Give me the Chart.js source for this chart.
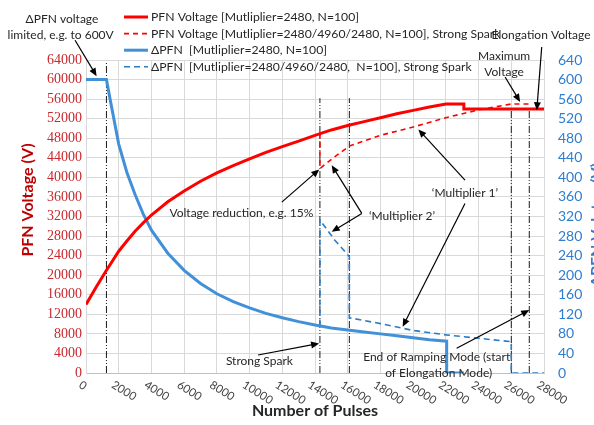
<!DOCTYPE html>
<html>
<head>
<meta charset="utf-8">
<script src="https://cdn.jsdelivr.net/npm/chart.js@4/dist/chart.umd.min.js"></script>
<style>
  html,body{margin:0;padding:0;background:#fff}
  canvas{display:block}
</style>
</head>
<body>
<canvas id="chart" width="594" height="425"></canvas>
<script>
/* ---------- data ---------- */

// PFN voltage, normal ramp (left axis, V)
const pfnX = [0, 625, 1250, 1500, 2000, 2500, 3000, 3500, 4000, 5000, 6000, 7000, 8000, 9000, 10000,
              11000, 12000, 13000, 14000, 15000, 16000, 17000, 18000, 19000, 20000, 21000, 22000, 23100, 23100, 28000];
const pfnY = [14000, 17600, 21000, 22300, 24900, 27000, 29000, 30700, 32300, 35000, 37200, 39200, 40900, 42400, 43800,
              45100, 46300, 47400, 48600, 49700, 50600, 51400, 52200, 53000, 53700, 54400, 55000, 55000, 54000, 54000];

// PFN voltage with strong spark
const sparkPfnX = [14300, 14300, 15200, 16100, 18000, 20000, 22000, 24000, 26000, 27300];
const sparkPfnY = [49000, 41800, 44200, 46400, 48600, 50300, 52200, 53800, 55000, 55000];

// delta PFN, normal ramp (right axis, V)
const dpfnX = [0, 1250, 1500, 2000, 2500, 3000, 3500, 4000, 5000, 6000, 7000, 8000, 9000, 10000, 11000,
               12000, 13000, 14000, 15000, 16000, 17000, 18000, 19000, 20000, 21000, 22050, 22050, 23100];
const dpfnY = [600, 600, 555, 468, 410, 365, 325, 292, 245, 210, 183, 162, 146, 133, 122,
               113, 105, 98, 92, 88, 84, 80, 76, 72, 68, 65, 0, 0];

// delta PFN with strong spark
const sparkDpfnX = [14300, 14300, 15200, 16100, 16100, 18000, 20000, 22000, 24000, 26000, 26000, 28000];
const sparkDpfnY = [97, 313, 272, 238, 113, 101, 87, 78, 71, 64, 0, 0];

// vertical event markers (pulse number, top in V)
const markerX   = [1250, 14300, 16100, 26000, 27100];
const markerTop = [63500, 56200, 56200, 54500, 54500];

const legendLabels = [
  "PFN Voltage [Mutliplier=2480, N=100]",
  "PFN Voltage [Mutliplier=2480/4960/2480, N=100], Strong Spark",
  "\u0394PFN  [Mutliplier=2480, N=100]",
  "\u0394PFN  [Mutliplier=2480/4960/2480,  N=100], Strong Spark"
];

/* ---------- helpers ---------- */

const pts = (xs, ys) => xs.map((x, i) => ({x, y: ys[i]}));

const RED = "#ff0000";
const BLUE = "#4190d8";
const BLUE_D = "#2a7cc7";
const TXT = "#262626";
const FONT = "Lato, 'Open Sans', sans-serif";

function arrow(ctx, x1, y1, x2, y2){
  const a = Math.atan2(y2 - y1, x2 - x1), L = 8, W = 3.5;
  ctx.beginPath();
  ctx.moveTo(x1, y1);
  ctx.lineTo(x2 - Math.cos(a) * L * 0.8, y2 - Math.sin(a) * L * 0.8);
  ctx.stroke();
  ctx.beginPath();
  ctx.moveTo(x2, y2);
  ctx.lineTo(x2 - L * Math.cos(a) + W * Math.sin(a), y2 - L * Math.sin(a) - W * Math.cos(a));
  ctx.lineTo(x2 - L * Math.cos(a) - W * Math.sin(a), y2 - L * Math.sin(a) + W * Math.cos(a));
  ctx.closePath();
  ctx.fill();
}

// annotation texts & arrows, in data units (pulses, left-axis volts)
const notes = [
  {t: "\u0394PFN voltage",              x: -1470, y: 72400},
  {t: "limited, e.g. to 600V",          x: -1550, y: 69100},
  {t: "Voltage reduction, e.g. 15%",    x: 9500,  y: 32700},
  {t: "\u2018Multiplier 2\u2019",       x: 19320, y: 32070},
  {t: "\u2018Multiplier 1\u2019",       x: 23170, y: 36710},
  {t: "Strong Spark",                   x: 10600, y: 2450},
  {t: "End of Ramping Mode (start",     x: 21440, y: 3330},
  {t: "of Elongation Mode)",            x: 21560, y: 60},
  {t: "Maximum",                        x: 25560, y: 64760},
  {t: "Voltage",                        x: 25560, y: 61560},
  {t: "Elongation Voltage",             x: 27820, y: 69050}
];
const arrows = [
  [-670, 68030, 650, 60700],
  [11970, 34940, 14260, 41620],
  [16860, 32630, 15020, 42490],
  [16860, 32630, 15020, 28870],
  [23170, 39430, 20320, 49790],
  [23170, 34670, 19360, 9460],
  [10520, 3680, 14250, 6030],
  [22660, 5050, 27100, 12870],
  [25620, 60530, 26540, 55430],
  [27860, 66660, 27560, 53730]
];

const decorations = {
  id: "decorations",
  afterDraw(chart){
    const ctx = chart.ctx;
    const xs = chart.scales.x, ys = chart.scales.y;
    const X = v => xs.getPixelForValue(v);
    const Y = v => ys.getPixelForValue(v);
    ctx.save();

    // legend
    const styles = chart.data.datasets.slice(0, 4);
    ctx.font = "12.2px " + FONT;
    ctx.textBaseline = "middle";
    ctx.textAlign = "left";
    legendLabels.forEach((lab, i) => {
      const y = 17 + i * 16.6;
      const d = styles[i];
      ctx.strokeStyle = d.borderColor;
      ctx.lineWidth = d.borderWidth;
      ctx.setLineDash(d.borderDash || []);
      ctx.beginPath(); ctx.moveTo(124, y); ctx.lineTo(148, y); ctx.stroke();
      ctx.setLineDash([]);
      ctx.fillStyle = TXT;
      ctx.fillText(lab, 151, y);
    });

    // x tick labels (rotated downwards)
    ctx.fillStyle = "#404040";
    ctx.font = "11.5px " + FONT;
    ctx.textBaseline = "top";
    xs.ticks.forEach(t => {
      ctx.save();
      ctx.translate(X(t.value) - 3, xs.top + 6);
      ctx.rotate(32 * Math.PI / 180);
      ctx.fillText(String(t.value), 0, 0);
      ctx.restore();
    });

    // axis titles
    ctx.textAlign = "center";
    ctx.textBaseline = "middle";
    ctx.font = "bold 16px " + FONT;
    ctx.fillStyle = TXT;
    ctx.fillText("Number of Pulses", (xs.left + xs.right) / 2, 411);

    ctx.save();
    ctx.translate(28, 200);
    ctx.rotate(-Math.PI / 2);
    ctx.fillStyle = "#c00000";
    ctx.fillText("PFN Voltage (V)", 0, 0);
    ctx.restore();

    ctx.save();
    ctx.translate(597, 225);
    ctx.rotate(-Math.PI / 2);
    ctx.fillStyle = "#2e7dd1";
    ctx.fillText("\u0394PFN Volatge (V)", 0, 0);
    ctx.restore();

    // annotations
    ctx.font = "12px " + FONT;
    ctx.fillStyle = TXT;
    notes.forEach(n => ctx.fillText(n.t, X(n.x), Y(n.y)));

    ctx.strokeStyle = "#000";
    ctx.fillStyle = "#000";
    ctx.lineWidth = 1.2;
    arrows.forEach(a => arrow(ctx, X(a[0]), Y(a[1]), X(a[2]), Y(a[3])));

    ctx.restore();
  }
};

/* ---------- chart ---------- */

const markerSets = markerX.map((x, i) => ({
  data: [{x, y: 0}, {x, y: markerTop[i]}],
  yAxisID: "y",
  borderColor: "#1a1a1a",
  borderWidth: 1,
  borderDash: [7, 2, 1, 2, 1, 2],
  pointRadius: 0
}));

new Chart(document.getElementById("chart"), {
  type: "line",
  data: {
    datasets: [
      {data: pts(pfnX, pfnY), yAxisID: "y", borderColor: RED, borderWidth: 3, pointRadius: 0},
      {data: pts(sparkPfnX, sparkPfnY), yAxisID: "y", borderColor: RED, borderWidth: 1.6, borderDash: [5, 4], pointRadius: 0},
      {data: pts(dpfnX, dpfnY), yAxisID: "y1", borderColor: BLUE, borderWidth: 3, pointRadius: 0},
      {data: pts(sparkDpfnX, sparkDpfnY), yAxisID: "y1", borderColor: BLUE_D, borderWidth: 1.6, borderDash: [6, 4], pointRadius: 0},
      ...markerSets
    ]
  },
  options: {
    responsive: false,
    animation: false,
    devicePixelRatio: 1,
    layout: {padding: {top: 60, left: 0, right: 0, bottom: 0}},
    plugins: {legend: {display: false}, tooltip: {enabled: false}},
    elements: {line: {tension: 0, fill: false}},
    scales: {
      x: {
        type: "linear", min: 0, max: 28000,
        ticks: {stepSize: 2000, display: false},
        grid: {color: "#d9d9d9", drawTicks: false},
        border: {color: "#bfbfbf"},
        afterFit(s){ s.height = 52; }
      },
      y: {
        position: "left", min: 0, max: 64000,
        ticks: {stepSize: 4000, autoSkip: false, padding: 4, color: "#c8282d",
                font: {family: "'Liberation Serif', serif", size: 14},
                callback: v => String(v)},
        grid: {color: "#d9d9d9", drawTicks: false},
        border: {color: "#d9d9d9"},
        afterFit(s){ s.width = 86; }
      },
      y1: {
        position: "right", min: 0, max: 640,
        ticks: {stepSize: 40, autoSkip: false, padding: 14, color: "#2e7dd1",
                font: {family: FONT, size: 14},
                callback: v => String(v)},
        grid: {display: false, drawTicks: false},
        border: {display: false},
        afterFit(s){ s.width = 50; }
      }
    }
  },
  plugins: [decorations]
});
</script>
</body>
</html>
